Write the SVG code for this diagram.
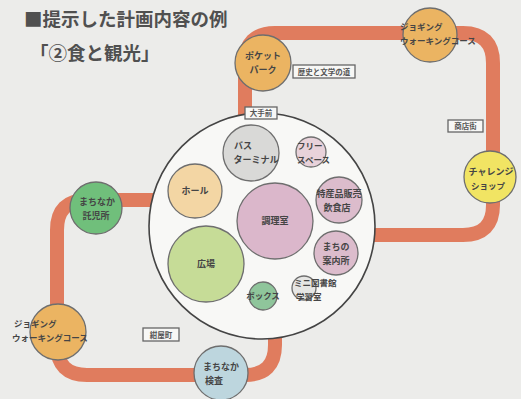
<svg xmlns="http://www.w3.org/2000/svg" width="521" height="399" viewBox="0 0 521 399">
<style>
text{font-family:"Noto Sans CJK JP","Noto Sans",sans-serif;fill:#454545;font-weight:bold}
.t{font-size:18.5px;fill:#505050}
.n{font-size:9px;text-anchor:middle}
.s{font-size:8.5px}
.lb rect{fill:#f7f7f5;stroke:#666;stroke-width:1.3}
.lb text{font-size:7.5px;text-anchor:middle;fill:#555}
.c{stroke:#6e6e6e;stroke-width:1.3}
.track{fill:none;stroke:#e07c5e;stroke-width:14;stroke-linejoin:round}
</style>
<rect width="521" height="399" fill="#ececea"/>
<text class="t" x="24" y="26">■提示した計画内容の例</text>
<text class="t" x="30" y="60">「②食と観光」</text>
<g id="connectors">
<path class="track" d="M245,120 V63 Q245,33 275,33 H463 Q493,33 493,63 V205 Q493,235 463,235 H370"/>
<path class="track" d="M155,200 H87 Q57,200 57,230 V345 Q57,375 87,375 H245 Q275,375 275,345 V330"/>
</g>
<g id="main">
<circle cx="262" cy="226" r="113" fill="#f8f8f6" stroke="#444" stroke-width="1.6"/>
</g>
<g id="label-ote" class="lb"><rect x="245" y="107" width="32" height="12"/><text x="261" y="116">大手前</text></g>
<g id="label-rekishi" class="lb"><rect x="293" y="65" width="62" height="13"/><text x="324" y="74.5">歴史と文学の道</text></g>
<g id="label-shoten" class="lb"><rect x="448" y="120" width="35" height="12"/><text x="465.5" y="129">商店街</text></g>
<g id="label-konya" class="lb"><rect x="143" y="328" width="36" height="13"/><text x="161" y="337.5">紺屋町</text></g>
<g id="bus"><circle class="c" cx="251" cy="153" r="28" fill="#d9d9d7"/><text class="n" x="243" y="149">バス</text><text class="n" x="256" y="163">ターミナル</text></g>
<g id="free"><circle class="c" cx="311" cy="152" r="15" fill="#e8d2da"/><text class="s" x="297" y="149">フリー</text><text class="s" x="297" y="163">スペース</text></g>
<g id="hall"><circle class="c" cx="195" cy="191" r="27" fill="#f3d6a4"/><text class="n" x="195" y="194">ホール</text></g>
<g id="kitchen"><circle class="c" cx="275" cy="221" r="38" fill="#dbb7cb"/><text class="n" x="275" y="224">調理室</text></g>
<g id="tokusan"><circle class="c" cx="339" cy="200" r="23" fill="#dcbccc"/><text class="n" x="339" y="197">特産品販売</text><text class="n" x="337" y="211">飲食店</text></g>
<g id="annai"><circle class="c" cx="336" cy="253" r="22" fill="#dcbccc"/><text class="n" x="336" y="250">まちの</text><text class="n" x="336" y="264">案内所</text></g>
<g id="hiroba"><circle class="c" cx="206" cy="264" r="38" fill="#c6dc97"/><text class="n" x="206" y="267">広場</text></g>
<g id="box"><circle class="c" cx="263" cy="296" r="14" fill="#8fc59b"/><text class="s" x="263" y="299" text-anchor="middle">ボックス</text></g>
<g id="library"><circle class="c" cx="304" cy="288" r="12" fill="#e6e6e4"/><text class="s" x="294" y="286">ミニ図書館</text><text class="s" x="296" y="300">学習室</text></g>
<g id="pocket"><circle class="c" cx="263" cy="63" r="28" fill="#ebb462"/><text class="n" x="263" y="59">ポケット</text><text class="n" x="263" y="73">パーク</text></g>
<g id="jog1"><circle class="c" cx="430" cy="35" r="27" fill="#ebb462"/><text class="s" x="400" y="30">ジョギング</text><text class="s" x="400" y="44">ウォーキングコース</text></g>
<g id="challenge"><circle class="c" cx="490" cy="177" r="26" fill="#f1e463"/><text class="n" x="491" y="175">チャレンジ</text><text class="s" x="488" y="189" text-anchor="middle">ショップ</text></g>
<g id="takuji"><circle class="c" cx="96" cy="208" r="26" fill="#70bf7b"/><text class="n" x="97" y="205">まちなか</text><text class="n" x="96" y="219">託児所</text></g>
<g id="jog2"><circle class="c" cx="58" cy="332" r="28" fill="#ebb462"/><text class="s" x="14" y="327">ジョギング</text><text class="s" x="12" y="341">ウォーキングコース</text></g>
<g id="kensa"><circle class="c" cx="221" cy="373" r="27" fill="#bdd6de"/><text class="n" x="221" y="370">まちなか</text><text class="n" x="214" y="384">検査</text></g>
</svg>
